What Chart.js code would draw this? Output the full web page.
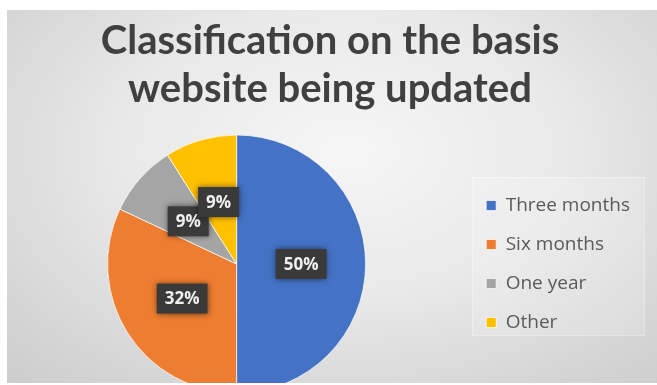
<!DOCTYPE html>
<html>
<head>
<meta charset="utf-8">
<script src="https://cdn.jsdelivr.net/npm/chart.js@4/dist/chart.umd.min.js"></script>
<style>
  html, body { margin: 0; padding: 0; background: #fff; }
  body { width: 657px; height: 385px; position: relative; overflow: hidden; }
  #frame {
    position: absolute; left: 7px; top: 10px; width: 650px; height: 373px;
    overflow: hidden;
    background: radial-gradient(ellipse 75% 85% at 52% 38%, #f6f6f6 0%, #e9e9e9 45%, #d6d6d6 80%, #cdcdcd 100%);
  }
  #myChart { position: absolute; left: -7px; top: -10px; }
  #title {
    position: absolute; left: 0; top: 5px; width: 650px;
    text-align: center; font: bold 40px/48px Lato, sans-serif; color: #404040;
    margin-left: -7px; padding-left: 10px; box-sizing: border-box;
  }
</style>
</head>
<body>
<div id="frame">
  <canvas id="myChart" width="657" height="400"></canvas>
  <div id="title">Classification on the basis<br>website being updated</div>
</div>
<script>
const categories = ['Three months', 'Six months', 'One year', 'Other'];
const shares = [50, 32, 9, 9];
const sliceColors = ['#4472C4', '#ED7D31', '#A5A5A5', '#FFC000'];

// dark boxes with the percentage in the middle of each slice
const sliceLabels = {
  id: 'sliceLabels',
  afterDatasetsDraw(chart) {
    const { ctx } = chart;
    const meta = chart.getDatasetMeta(0);
    ctx.save();
    ctx.font = 'bold 17px "Open Sans"';
    ctx.textAlign = 'center';
    ctx.textBaseline = 'middle';
    meta.data.forEach((arc, i) => {
      const { x, y } = arc.tooltipPosition();
      const text = shares[i] + '%';
      const w = ctx.measureText(text).width + 16;
      const h = 30;
      ctx.shadowColor = 'rgba(0,0,0,0.55)';
      ctx.shadowBlur = 6;
      ctx.fillStyle = '#3a3a3a';
      ctx.fillRect(x - w / 2, y - h / 2, w, h);
      ctx.shadowBlur = 0;
      ctx.fillStyle = '#f0f0f0';
      ctx.fillText(text, x, y + 1);
    });
    ctx.restore();
  },
};

// faint panel behind the legend
const legendPanel = {
  id: 'legendPanel',
  beforeDraw(chart) {
    const lg = chart.legend;
    if (!lg || !lg.legendHitBoxes.length) return;
    const boxes = lg.legendHitBoxes;
    const left = Math.min(...boxes.map((b) => b.left)) - 14;
    const top = Math.min(...boxes.map((b) => b.top)) - 19;
    const bottom = Math.max(...boxes.map((b) => b.top + b.height)) + 3;
    const right = lg.right + 4;
    const { ctx } = chart;
    ctx.save();
    ctx.fillStyle = 'rgba(255,255,255,0.18)';
    ctx.strokeStyle = 'rgba(255,255,255,0.4)';
    ctx.lineWidth = 1;
    ctx.fillRect(left, top, right - left, bottom - top);
    ctx.strokeRect(left + 0.5, top + 0.5, right - left, bottom - top);
    ctx.restore();
  },
};

const ctx = document.getElementById('myChart').getContext('2d');
new Chart(ctx, {
  type: 'pie',
  data: {
    labels: categories,
    datasets: [
      {
        data: shares,
        backgroundColor: sliceColors,
        borderColor: 'rgba(255,255,255,0.7)',
        borderWidth: 1,
        radius: 129,
      },
    ],
  },
  options: {
    responsive: false,
    animation: false,
    layout: {
      padding: { top: 135, bottom: 7, left: 7, right: 17 },
    },
    plugins: {
      tooltip: { enabled: false },
      legend: {
        position: 'right',
        align: 'center',
        maxHeight: 251,
        labels: {
          boxWidth: 10,
          boxHeight: 10,
          padding: 20,
          color: '#5a5a5a',
          font: { size: 19, family: '"Open Sans"' },
        },
      },
    },
  },
  plugins: [legendPanel, sliceLabels],
});
</script>
</body>
</html>
